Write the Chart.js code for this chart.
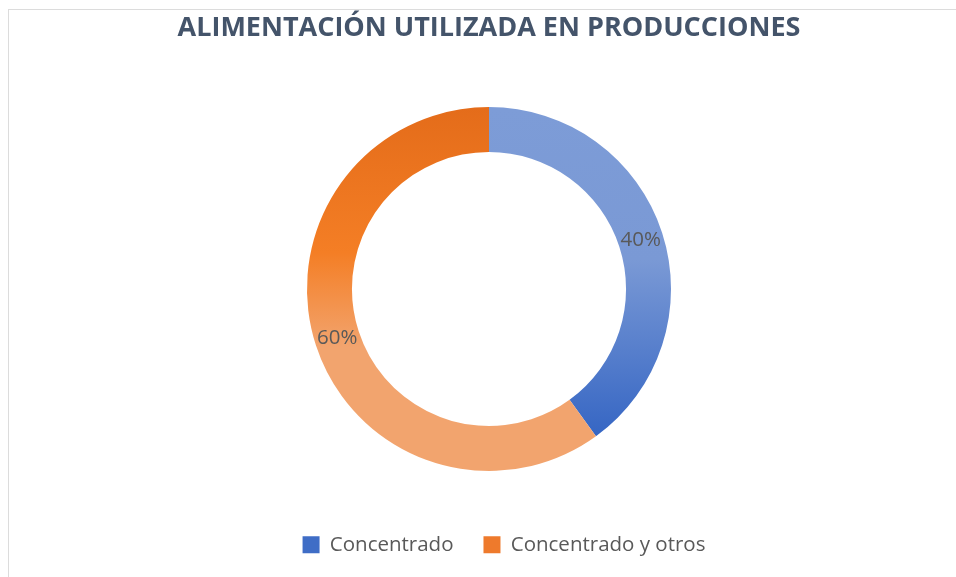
<!DOCTYPE html>
<html>
<head>
<meta charset="utf-8">
<title>Alimentación utilizada en producciones</title>
<script src="https://cdn.jsdelivr.net/npm/chart.js@4.4.0/dist/chart.umd.min.js"></script>
<style>
  html, body { margin: 0; padding: 0; background: #fff; }
  #wrap { position: relative; width: 956px; height: 577px; }
  #frame { position: absolute; left: 8px; top: 9px; right: 0; bottom: 0;
           border-top: 1px solid #dcdcdc; border-left: 1px solid #dcdcdc; pointer-events: none; }
</style>
</head>
<body>
<div id="wrap">
  <canvas id="chart" width="956" height="577"></canvas>
  <div id="frame"></div>
</div>
<script>
const chartTitle = 'ALIMENTACIÓN UTILIZADA EN PRODUCCIONES';
const categories = ['Concentrado', 'Concentrado y otros'];
const shares = [40, 60];

const RADIUS = 182;
const legendColors = ['#3F6DC6', '#EE7A2C'];
// vertical gradient stops across the ring (top -> bottom)
const sliceStops = [
    [[0, '#7D9CD7'], [0.42, '#7A99D5'], [0.95, '#2F61C2'], [1, '#2F61C2']],
    [[0, '#E46C1A'], [0.4, '#F47E25'], [0.66, '#F2A46E'], [1, '#F2A46E']]
];

// pick a narrow bold face for the title if there is one, then size it to the reference width
const probe = document.createElement('canvas').getContext('2d');
const fontAvailable = (name) => {
    probe.font = 'bold 40px monospace';
    const base = probe.measureText(chartTitle).width;
    probe.font = `bold 40px "${name}", monospace`;
    return probe.measureText(chartTitle).width !== base;
};
const titleFamily = ['Liberation Sans Narrow', 'Open Sans'].find(fontAvailable) || 'sans-serif';
probe.font = `bold 100px "${titleFamily}"`;
const titleSize = Math.round(100 * 622 / probe.measureText(chartTitle).width * 10) / 10;
const titlePadTop = 28 - titleSize * 0.6;
const titlePadBottom = 73.5 - titleSize * 1.2 - titlePadTop;

const sliceGradient = (chart, i) => {
    const area = chart.chartArea;
    if (!area) return legendColors[i];
    const cy = (area.top + area.bottom) / 2;
    const g = chart.ctx.createLinearGradient(0, cy - RADIUS, 0, cy + RADIUS);
    sliceStops[i].forEach(([o, c]) => g.addColorStop(o, c));
    return g;
};

const sliceLabels = {
    id: 'sliceLabels',
    afterDatasetsDraw(chart) {
        const ctx = chart.ctx;
        ctx.save();
        ctx.font = '20.5px "Open Sans"';
        ctx.fillStyle = '#595959';
        ctx.textAlign = 'center';
        ctx.textBaseline = 'middle';
        chart.getDatasetMeta(0).data.forEach((arc, i) => {
            const p = arc.tooltipPosition();
            ctx.fillText(shares[i] + '%', p.x, p.y);
        });
        ctx.restore();
    }
};

// the legend in the reference sits a little right of the ring's centre
const legendShift = {
    id: 'legendShift',
    afterLayout(chart) {
        chart.legend.left += 15;
        chart.legend.right += 15;
    }
};

new Chart(document.getElementById('chart'), {
    type: 'doughnut',
    data: {
        labels: categories,
        datasets: [{
            data: shares,
            backgroundColor: (c) => sliceGradient(c.chart, c.dataIndex),
            borderWidth: 0
        }]
    },
    options: {
        responsive: false,
        animation: false,
        radius: RADIUS,
        cutout: '75.3%',
        layout: { padding: { left: 22, right: 0, top: 0, bottom: 12 } },
        plugins: {
            title: {
                display: true,
                text: chartTitle,
                color: '#44546A',
                font: { family: `"${titleFamily}"`, size: titleSize, weight: 'bold', lineHeight: 1.2 },
                padding: { top: titlePadTop, bottom: titlePadBottom }
            },
            legend: {
                position: 'bottom',
                labels: {
                    color: '#595959',
                    font: { family: '"Open Sans"', size: 20.5 },
                    boxWidth: 17,
                    boxHeight: 17,
                    padding: 30,
                    generateLabels: (chart) =>
                        Chart.overrides.doughnut.plugins.legend.labels.generateLabels(chart)
                            .map((l, i) => ({ ...l, fillStyle: legendColors[i], strokeStyle: legendColors[i], lineWidth: 0 }))
                }
            },
            tooltip: { enabled: false }
        }
    },
    plugins: [sliceLabels, legendShift]
});
</script>
</body>
</html>
